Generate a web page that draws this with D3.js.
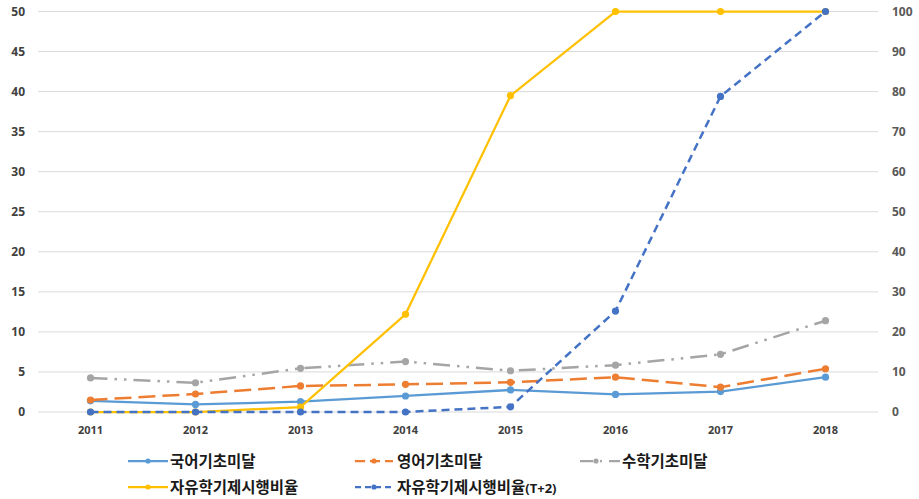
<!DOCTYPE html>
<html><head><meta charset="utf-8">
<script src="https://cdn.jsdelivr.net/npm/d3@7"></script>
<style>
html,body{margin:0;padding:0;background:#fff;}
svg{display:block;}
text{font-family:"Noto Sans CJK KR","Noto Sans",sans-serif;}
</style></head>
<body>
<svg id="chart" width="919" height="499"></svg>
<script>
const years = ["2011","2012","2013","2014","2015","2016","2017","2018"];
const korean = [1.4, 0.95, 1.3, 2.0, 2.75, 2.2, 2.55, 4.35];
const english = [1.5, 2.25, 3.25, 3.45, 3.7, 4.35, 3.1, 5.4];
const math = [4.25, 3.65, 5.45, 6.3, 5.15, 5.85, 7.2, 11.4];
const freeSem = [0, 0, 1.2, 24.4, 79, 100, 100, 100];
const freeSemT2 = [0, 0, 0, 0, 1.3, 25.2, 78.8, 100];
const leftTicks = [0,5,10,15,20,25,30,35,40,45,50];
const rightTicks = [0,10,20,30,40,50,60,70,80,90,100];
const names = ["국어기초미달","영어기초미달","수학기초미달","자유학기제시행비율","자유학기제시행비율"];
const nameSuffix = ["","","","","(T+2)"];

const svg = d3.select("#chart");
const pLeft = 38, pRight = 878, pTop = 11.5, pBottom = 412;
const x = d3.scaleBand().domain(years).range([pLeft, pRight]);
const yL = d3.scaleLinear().domain([0,50]).range([pBottom, pTop]);
const yR = d3.scaleLinear().domain([0,100]).range([pBottom, pTop]);
const cx = d => x(d) + x.bandwidth()/2;

// grid
svg.append("g").selectAll("line").data(leftTicks).join("line")
  .attr("x1", pLeft).attr("x2", pRight)
  .attr("y1", d => yL(d)).attr("y2", d => yL(d))
  .attr("stroke", "#D9D9D9").attr("stroke-width", 1);

// left axis
const axL = d3.axisLeft(yL).tickValues(leftTicks).tickSize(0).tickPadding(0);
const gL = svg.append("g").attr("transform", `translate(25,0)`).call(axL);
gL.select(".domain").remove();
gL.selectAll("text").attr("font-size", 12).attr("font-weight", "bold").attr("fill", "#404040")
  .style("font-family", "'Noto Sans','DejaVu Sans',sans-serif");

// right axis
const axR = d3.axisRight(yR).tickValues(rightTicks).tickSize(0).tickPadding(0);
const gR = svg.append("g").attr("transform", `translate(892,0)`).call(axR);
gR.select(".domain").remove();
gR.selectAll("text").attr("font-size", 12).attr("font-weight", "bold").attr("fill", "#595959")
  .style("font-family", "'Noto Sans','DejaVu Sans',sans-serif");

// x axis
const axX = d3.axisBottom(x).tickSize(0).tickPadding(0);
const gX = svg.append("g").attr("transform", `translate(0,426)`).call(axX);
gX.select(".domain").remove();
gX.selectAll("text").attr("font-size", 11).attr("font-weight", "bold").attr("fill", "#404040")
  .style("font-family", "'Noto Sans','DejaVu Sans',sans-serif");

const series = [
  {name: names[0], vals: korean, y: yL, color: "#5B9BD5", dash: null, w: 2.25},
  {name: names[1], vals: english, y: yL, color: "#ED7D31", dash: "17,7", w: 2.5},
  {name: names[2], vals: math, y: yL, color: "#A5A5A5", dash: "17,7,2.5,7,2.5,7", w: 2.5},
  {name: names[3], vals: freeSem, y: yR, color: "#FFC000", dash: null, w: 2.25},
  {name: names[4], vals: freeSemT2, y: yR, color: "#4472C4", dash: "8,5", w: 2.5},
];

series.forEach(s => {
  const line = d3.line().x((d,i) => cx(years[i])).y(d => s.y(d));
  svg.append("path").datum(s.vals)
    .attr("d", line).attr("fill", "none")
    .attr("stroke", s.color).attr("stroke-width", s.w)
    .attr("stroke-dasharray", s.dash);
  svg.append("g").selectAll("circle").data(s.vals).join("circle")
    .attr("cx", (d,i) => cx(years[i])).attr("cy", d => s.y(d))
    .attr("r", 3.6).attr("fill", s.color);
});

// legend
const legendPos = [
  {x1:128, x2:168, tx:170, y:461},
  {x1:355, x2:393, tx:397, y:461},
  {x1:580, x2:620, tx:622, y:461},
  {x1:128, x2:168, tx:170, y:487},
  {x1:355, x2:393, tx:397, y:487},
];
const legendDash = [null, "10,5", "13,7,2,7", null, "6,4"];
series.forEach((s, i) => {
  const p = legendPos[i];
  const g = svg.append("g");
  g.append("line").attr("x1", p.x1).attr("x2", p.x2).attr("y1", p.y).attr("y2", p.y)
    .attr("stroke", s.color).attr("stroke-width", 2.25).attr("stroke-dasharray", legendDash[i]);
  g.append("circle").attr("cx", (p.x1+p.x2)/2 - (i==2?4:0)).attr("cy", p.y).attr("r", 2.6).attr("fill", s.color);
  const t = g.append("text").attr("x", p.tx).attr("y", p.y).attr("dy", "0.36em")
    .attr("font-size", 15.5).attr("font-weight", 600).attr("fill", "#1a1a1a");
  t.append("tspan").text(s.name);
  if (nameSuffix[i]) {
    t.append("tspan").attr("font-size", 13).attr("font-weight", 700)
      .style("font-family", "'Noto Sans','DejaVu Sans',sans-serif").text(nameSuffix[i]);
  }
});
</script>
</body></html>
